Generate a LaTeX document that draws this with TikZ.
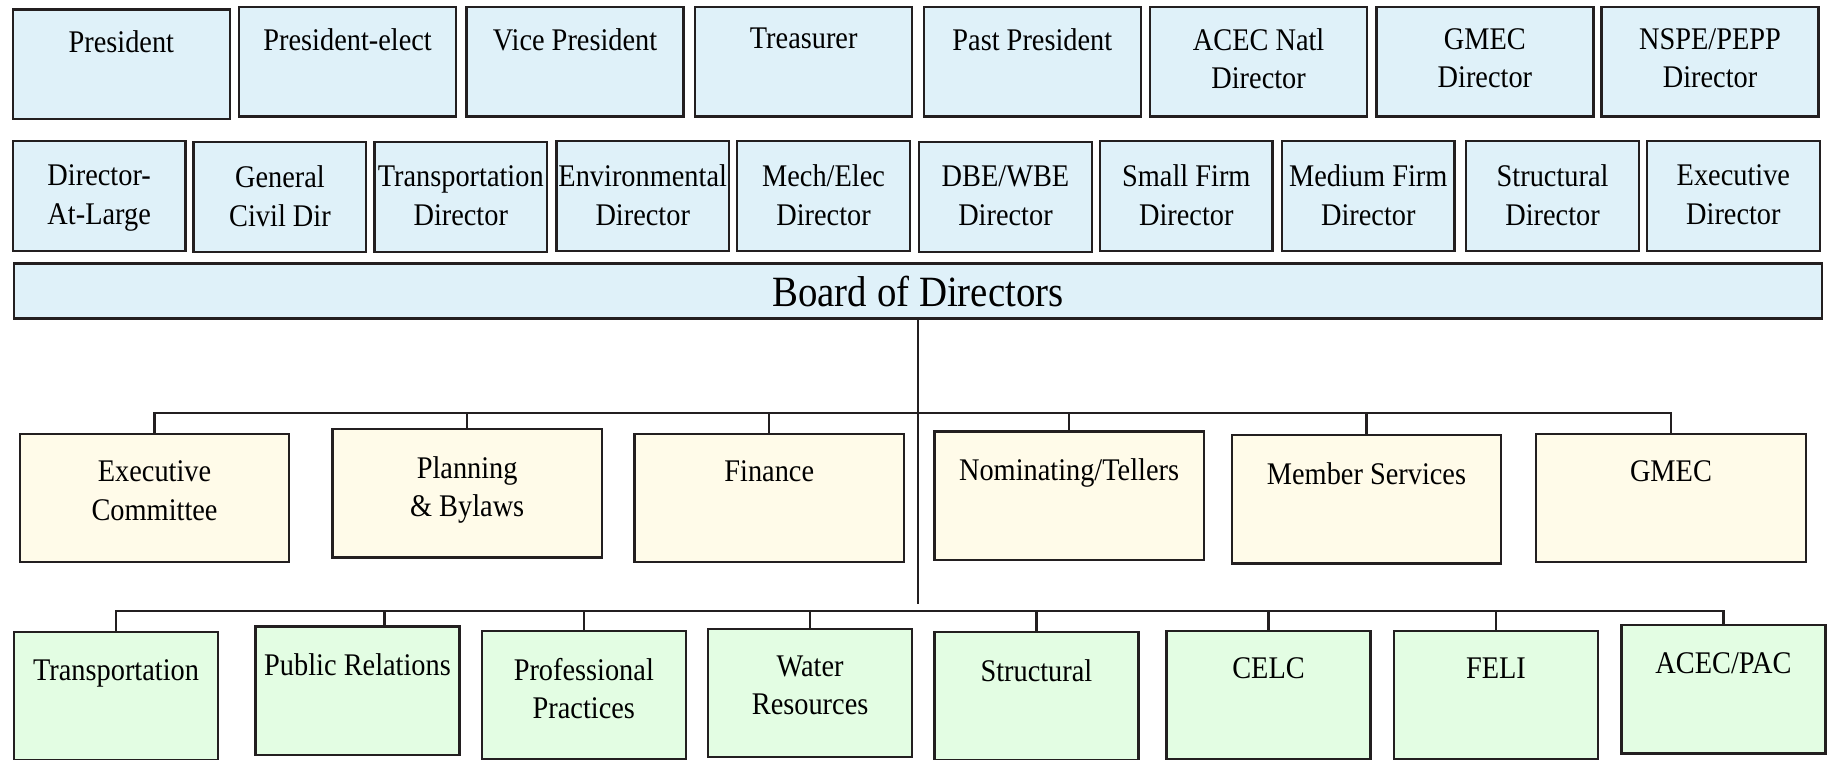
\documentclass[tikz,border=0pt]{standalone}
\usepackage{fontspec}
\setmainfont{Liberation Serif}[FakeStretch=0.9]
\definecolor{ink}{HTML}{231F20}
\definecolor{boardblue}{HTML}{DFF1F9}
\definecolor{cream}{HTML}{FFFBE9}
\definecolor{mint}{HTML}{E3FDE3}

\begin{document}
\begin{tikzpicture}[x=1pt,y=-1pt,
    font=\fontsize{27}{33}\selectfont,
    box/.style={draw=ink, line width=2pt, anchor=north west, inner sep=0pt},
    txt/.style={anchor=north, align=center, inner sep=0pt},
    say/.style={label={[txt]north:{#1}}},
    officer/.style={box, fill=boardblue, minimum width=186pt, minimum height=94pt},
    dirbox/.style={box, fill=boardblue, minimum width=148pt, minimum height=94pt},
    combox/.style={box, fill=cream, minimum width=231pt, minimum height=110pt},
    subbox/.style={box, fill=mint, minimum width=175pt, minimum height=110pt},
    link/.style={draw=ink, line width=2pt}]
    \useasboundingbox (0,0) rectangle (1568,651);

    % officers
    \begin{scope}[txt/.append style={yshift=-19pt}]
        \node[officer, say=President] (pres) at (10,7) {};
        \node[officer, say=President-elect] (prelect) at (204,5) {};
        \node[officer, say=Vice President] (vp) at (399,5) {};
        \node[officer, say=Treasurer] (treas) at (595,5) {};
        \node[officer, say=Past President] (past) at (791,5) {};
        \node[officer, say={ACEC Natl\\Director}] (acecdir) at (985,5) {};
        \node[officer, say={GMEC\\Director}] (gmecdir) at (1179,5) {};
        \node[officer, say={NSPE/PEPP\\Director}] (nspe) at (1372,5) {};
    \end{scope}

    % directors
    \begin{scope}[txt/.append style={yshift=-21pt}]
        \node[dirbox, say={Director-\\At-Large}] (atlarge) at (10,120) {};
        \node[dirbox, say={General\\Civil Dir}] (civil) at (165,121) {};
        \node[dirbox, say={Transportation\\Director}] (transdir) at (320,121) {};
        \node[dirbox, say={Environmental\\Director}] (envdir) at (476,120) {};
        \node[dirbox, say={Mech/Elec\\Director}] (mechdir) at (631,120) {};
        \node[dirbox, say={DBE/WBE\\Director}] (dbedir) at (787,121) {};
        \node[dirbox, say={Small Firm\\Director}] (smalldir) at (942,120) {};
        \node[dirbox, say={Medium Firm\\Director}] (meddir) at (1098,120) {};
        \node[dirbox, say={Structural\\Director}] (structdir) at (1256,120) {};
        \node[dirbox, say={Executive\\Director}] (execdir) at (1411,120) {};
    \end{scope}

    \node[box, fill=boardblue, minimum width=1550pt, minimum height=47pt,
        font=\fontsize{37}{44}\selectfont] (board) at (11,225) {Board of Directors};

    % committees
    \begin{scope}[txt/.append style={yshift=-24pt}]
        \node[combox, say={Executive\\Committee}] (exec) at (16,371) {};
        \node[combox, say={Planning\\\& Bylaws}] (plan) at (284,367) {};
        \node[combox, say=Finance] (fin) at (543,371) {};
        \node[combox, say=Nominating/Tellers] (nom) at (800,369) {};
        \node[combox, say=Member Services] (mem) at (1055,372) {};
        \node[combox, say=GMEC] (gmec) at (1316,371) {};
    \end{scope}

    % subcommittees
    \begin{scope}[txt/.append style={yshift=-24pt}]
        \node[subbox, say=Transportation] (trans) at (11,541) {};
        \node[subbox, say=Public Relations] (pr) at (218,536) {};
        \node[subbox, say={Professional\\Practices}] (pp) at (412,540) {};
        \node[subbox, say={Water\\Resources}] (water) at (606,538) {};
        \node[subbox, say=Structural] (struct) at (800,541) {};
        \node[subbox, say=CELC] (celc) at (999,540) {};
        \node[subbox, say=FELI] (feli) at (1194,540) {};
        \node[subbox, say=ACEC/PAC] (acecpac) at (1389,535) {};
    \end{scope}

    % connectors
    \coordinate (combus) at (0,354);
    \coordinate (subbus) at (0,524);
    \coordinate (trunkend) at (0,518);
    \coordinate (prtop) at ([xshift=23pt]pr.north);
    \draw[link] (board.south) -- (board.south |- trunkend);
    \draw[link] (exec.north) |- (gmec.north |- combus) -- (gmec.north);
    \foreach \n in {plan,fin,nom,mem}
        \draw[link] (\n.north) -- (\n.north |- combus);
    \draw[link] (trans.north) |- (acecpac.north |- subbus) -- (acecpac.north);
    \foreach \n in {pp,water,struct,celc,feli}
        \draw[link] (\n.north) -- (\n.north |- subbus);
    \draw[link] (prtop) -- (prtop |- subbus);
\end{tikzpicture}
\end{document}
